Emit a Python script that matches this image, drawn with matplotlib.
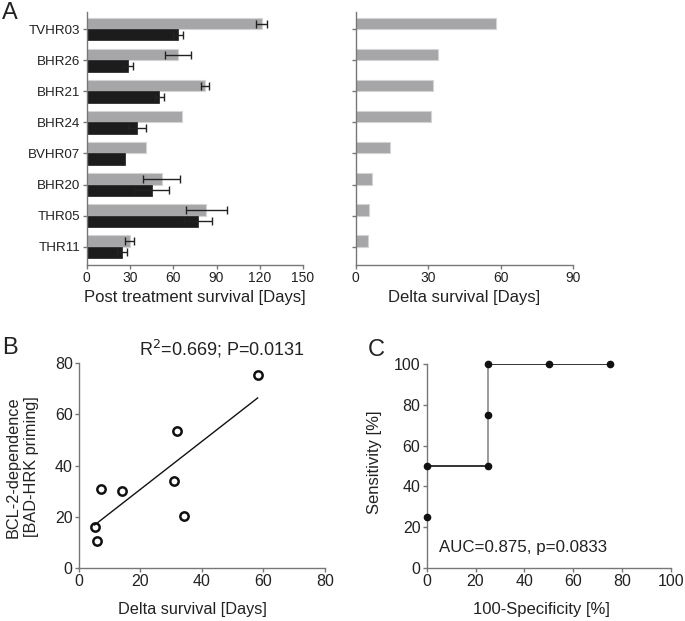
import numpy as np
import matplotlib
matplotlib.use('Agg')
import matplotlib.pyplot as plt

plt.rcParams['font.family'] = ['Liberation Sans', 'DejaVu Sans']
plt.rcParams['text.color'] = '#222222'
plt.rcParams['axes.labelcolor'] = '#222222'
plt.rcParams['xtick.color'] = '#777777'
plt.rcParams['ytick.color'] = '#777777'
plt.rcParams['xtick.labelcolor'] = '#222222'
plt.rcParams['ytick.labelcolor'] = '#222222'

# Panel A data (top to bottom)
models = ['TVHR03', 'BHR26', 'BHR21', 'BHR24', 'BVHR07', 'BHR20', 'THR05', 'THR11']
treated = [121.5, 63.0, 82.2, 66.0, 40.8, 51.9, 82.8, 29.8]
treated_err = [3.8, 9.0, 2.7, 0.0, 0.0, 13.0, 14.2, 3.0]
control = [63.5, 28.6, 50.3, 34.8, 26.8, 45.0, 77.3, 24.5]
control_err = [3.5, 3.5, 3.0, 6.0, 0.0, 12.0, 9.5, 3.2]
delta = [58.0, 34.2, 31.8, 31.0, 14.0, 6.9, 5.5, 5.2]

# Panel B data
delta_x = [58.1, 34.0, 31.9, 30.9, 14.1, 7.0, 5.7, 5.1]
bcl2_dep = [75.5, 20.4, 53.7, 33.8, 30.2, 30.9, 10.4, 15.9]

# Panel C data (ROC)
fpr = [0, 0, 25, 25, 25, 50, 75]
tpr = [25, 50, 50, 75, 100, 100, 100]

GRAY = '#a6a6a8'
BLACK = '#1c1c1c'
SPINE = '#777777'


def style_axes(ax):
    for s in ['top', 'right']:
        ax.spines[s].set_visible(False)
    for s in ['left', 'bottom']:
        ax.spines[s].set_color(SPINE)
        ax.spines[s].set_linewidth(1.0)
    ax.tick_params(direction='out', length=3, width=1.0, pad=1.5)


fig = plt.figure(figsize=(6.85, 6.21), dpi=100)

# ---- Panel A left
ax1 = fig.add_axes([0.1266, 0.5733, 0.3158, 0.4074])
style_axes(ax1)
ypos = np.arange(len(models))[::-1]
h = 0.36
ax1.barh(ypos + h / 2, treated, height=h, color=GRAY, edgecolor='#d4d4d4', linewidth=0.8)
ax1.barh(ypos - h / 2, control, height=h, color=BLACK, edgecolor=BLACK, linewidth=0.5)
for y, v, e in zip(ypos, treated, treated_err):
    if e > 0:
        ax1.errorbar(v, y + h / 2, xerr=e, color='#222222', lw=1.0, capsize=3, capthick=1.0)
for y, v, e in zip(ypos, control, control_err):
    if e > 0:
        ax1.errorbar(v, y - h / 2, xerr=e, color='#222222', lw=1.0, capsize=3, capthick=1.0)
ax1.set_xlim(0, 150)
ax1.set_ylim(-0.59, 7.557)
ax1.set_xticks([0, 30, 60, 90, 120, 150])
ax1.set_yticks(ypos)
ax1.set_yticklabels(models)
ax1.tick_params(labelsize=10)
ax1.tick_params(axis='y', labelsize=9.6)
ax1.set_xlabel('Post treatment survival [Days]', fontsize=12)
ax1.xaxis.set_label_coords(0.5, -0.1)

# ---- Panel A right
ax2 = fig.add_axes([0.5193, 0.5733, 0.3177, 0.4074])
style_axes(ax2)
ax2.barh(ypos + h / 2, delta, height=h, color=GRAY, edgecolor='#d4d4d4', linewidth=0.8)
ax2.set_xlim(0, 90)
ax2.set_ylim(-0.59, 7.557)
ax2.set_xticks([0, 30, 60, 90])
ax2.set_yticks(ypos)
ax2.set_yticklabels([])
ax2.tick_params(labelsize=10)
ax2.set_xlabel('Delta survival [Days]', fontsize=12)
ax2.xaxis.set_label_coords(0.5, -0.1)

# ---- Panel B
ax3 = fig.add_axes([0.1153, 0.0858, 0.3591, 0.3291])
style_axes(ax3)
ax3.plot(delta_x, bcl2_dep, 'o', mfc='none', mec='#111111', mew=1.8, ms=6, clip_on=False)
slope, icpt = np.polyfit(delta_x, bcl2_dep, 1)
xl = np.array([min(delta_x), max(delta_x)])
ax3.plot(xl, slope * xl + icpt, color='#111111', lw=1.0)
ax3.set_xlim(0, 80)
ax3.set_ylim(0, 80)
ax3.set_xticks([0, 20, 40, 60, 80])
ax3.set_yticks([0, 20, 40, 60, 80])
ax3.tick_params(labelsize=11.5)
ax3.set_xlabel('Delta survival [Days]', fontsize=11.7)
ax3.xaxis.set_label_coords(0.463, -0.17)
ax3.text(-0.23, 0.493, 'BCL-2-dependence\n[BAD-HRK priming]', transform=ax3.transAxes,
         rotation=90, ha='center', va='center', fontsize=11.7, linespacing=1.25)
fig.text(0.324, 0.438, 'R$^2$=0.669; P=0.0131', ha='center', va='center', fontsize=13)

# ---- Panel C
ax4 = fig.add_axes([0.6229, 0.0858, 0.3566, 0.3275])
style_axes(ax4)
for i in range(len(fpr) - 1):
    seg_col = '#8a8a8a' if fpr[i] == fpr[i + 1] else '#111111'
    ax4.plot(fpr[i:i + 2], tpr[i:i + 2], color=seg_col, lw=1.2, zorder=2)
ax4.plot(fpr, tpr, 'o', color='#111111', ms=4.5, zorder=3, clip_on=False)
ax4.set_xlim(0, 100)
ax4.set_ylim(0, 100)
ax4.set_xticks([0, 20, 40, 60, 80, 100])
ax4.set_yticks([0, 20, 40, 60, 80, 100])
ax4.tick_params(labelsize=11.5)
ax4.set_xlabel('100-Specificity [%]', fontsize=12)
ax4.xaxis.set_label_coords(0.471, -0.17)
ax4.text(-0.212, 0.52, 'Sensitivity [%]', transform=ax4.transAxes,
         rotation=90, ha='center', va='center', fontsize=12)
ax4.text(5, 9.7, 'AUC=0.875, p=0.0833', ha='left', va='center', fontsize=12.2)

# panel letters
fig.text(0.003, 0.997, 'A', ha='left', va='top', fontsize=17)
fig.text(0.003, 1 - 337 / 621, 'B', ha='left', va='top', fontsize=17)
fig.text(368 / 685, 1 - 339 / 621, 'C', ha='left', va='top', fontsize=17)

fig.savefig('out.png', dpi=100)
